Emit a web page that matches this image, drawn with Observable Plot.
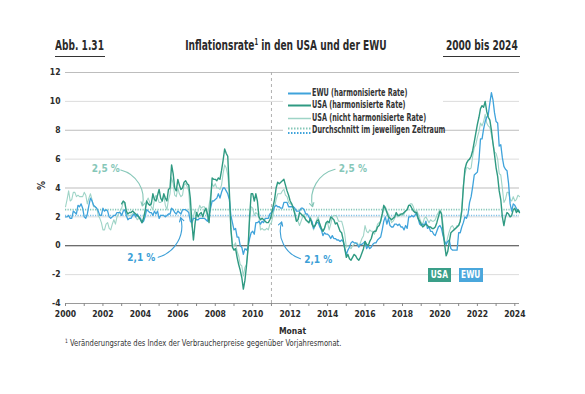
<!DOCTYPE html>
<html>
<head>
<meta charset="utf-8">
<script src="https://cdn.jsdelivr.net/npm/d3@7"></script>
<script src="https://cdn.jsdelivr.net/npm/@observablehq/plot@0.6"></script>
<style>
  body { margin: 0; background: #fff; }
  #wrap { position: relative; width: 585px; height: 394px; overflow: hidden;
          font-family: "Liberation Sans Narrow", "DejaVu Sans Condensed", "Roboto", sans-serif; color: #2b2b2b; }
  .abs { position: absolute; white-space: nowrap; }
  .sq { display: inline-block; transform: scaleX(0.72); }
  #chart svg { overflow: visible; }
</style>
</head>
<body>
<div id="wrap">
  <div class="abs" style="left:55px;top:37px;font-size:14px;font-weight:bold;"><span class="sq" style="transform-origin:left center;">Abb. 1.31</span></div>
  <div class="abs" style="left:55px;top:56px;width:50px;height:0;border-top:1px solid #333;"></div>
  <div class="abs" style="left:136px;top:37px;width:300px;text-align:center;font-size:14px;font-weight:bold;"><span class="sq" style="transform-origin:center center;">Inflationsrate<span style="font-size:8px;vertical-align:5px;">1</span> in den USA und der EWU</span></div>
  <div class="abs" style="left:400px;top:37px;width:118px;text-align:right;font-size:14px;font-weight:bold;"><span class="sq" style="transform-origin:right center;">2000 bis 2024</span></div>
  <div class="abs" style="left:443px;top:56px;width:77px;height:0;border-top:1px solid #333;"></div>
  <div id="chart" class="abs" style="left:0;top:62px;"></div>
  <div class="abs" style="left:37px;top:180px;font-size:10px;font-weight:bold;transform:rotate(-90deg);">%</div>
  <div id="legend" class="abs" style="left:283px;top:86px;width:160px;height:52px;background:#fff;"></div>
  <div class="abs" style="left:428px;top:268px;width:23px;height:14px;background:#3a9f89;color:#fff;font-size:10px;font-weight:bold;text-align:center;line-height:14px;"><span class="sq" style="transform:scaleX(0.82);">USA</span></div>
  <div class="abs" style="left:459px;top:268px;width:24px;height:14px;background:#4aa7dc;color:#fff;font-size:10px;font-weight:bold;text-align:center;line-height:14px;"><span class="sq" style="transform:scaleX(0.82);">EWU</span></div>
  <div class="abs" style="left:65px;top:337px;font-size:9px;color:#333;"><span class="sq" style="transform:scaleX(0.84);transform-origin:left center;"><span style="font-size:6px;vertical-align:3px;">1</span> Veränderungsrate des Index der Verbraucherpreise gegenüber Vorjahresmonat.</span></div>
</div>
<script>
// ---- data (monthly year-on-year rates, %) ----
const ewuStart = 2000;
const ewu = [
  2.0,2.0,2.1,1.9,1.9,2.4,2.3,2.2,2.8,2.7,2.9,2.6,
  2.0,1.9,2.2,2.8,3.3,3.1,2.8,2.7,2.6,2.4,2.1,2.1,
  2.6,2.4,2.5,2.4,2.0,1.9,2.0,2.1,2.1,2.3,2.3,2.3,
  2.1,2.4,2.5,2.1,1.8,1.9,1.9,2.1,2.2,2.0,2.2,2.0,
  1.9,1.6,1.7,2.0,2.5,2.4,2.3,2.3,2.1,2.4,2.2,2.4,
  1.9,2.1,2.1,2.1,2.0,2.1,2.2,2.2,2.6,2.5,2.3,2.2,
  2.4,2.3,2.2,2.5,2.5,2.5,2.4,2.3,1.7,1.6,1.9,1.9,
  1.8,1.8,1.9,1.9,1.9,1.9,1.8,1.7,2.1,2.6,3.1,3.1,
  3.2,3.3,3.6,3.3,3.7,4.0,4.0,3.8,3.6,3.2,2.1,1.6,
  1.1,1.2,0.6,0.6,0.0,-0.1,-0.6,-0.2,-0.3,-0.1,0.5,0.9,
  1.0,0.8,1.6,1.6,1.7,1.5,1.7,1.6,1.9,1.9,1.9,2.2,
  2.3,2.4,2.7,2.8,2.7,2.7,2.6,2.6,3.0,3.0,3.0,2.7,
  2.7,2.7,2.7,2.6,2.4,2.4,2.4,2.6,2.6,2.5,2.2,2.2,
  2.0,1.8,1.7,1.2,1.4,1.6,1.6,1.3,1.1,0.7,0.9,0.8,
  0.8,0.7,0.5,0.7,0.5,0.5,0.4,0.4,0.3,0.4,0.3,-0.2,
  -0.6,-0.3,-0.1,0.2,0.3,0.2,0.2,0.1,-0.1,0.1,0.1,0.2,
  0.3,-0.2,0.0,-0.2,-0.1,0.1,0.2,0.2,0.4,0.5,0.6,1.1,
  1.7,2.0,1.5,1.9,1.4,1.3,1.3,1.5,1.5,1.4,1.5,1.3,
  1.3,1.1,1.4,1.2,2.0,2.0,2.1,2.0,2.1,2.3,1.9,1.5,
  1.4,1.5,1.4,1.7,1.2,1.3,1.0,1.0,0.8,0.7,1.0,1.3,
  1.4,1.2,0.7,0.3,0.1,0.3,0.4,-0.2,-0.3,-0.3,-0.3,-0.3,
  0.9,0.9,1.3,1.6,2.0,1.9,2.2,3.0,3.4,4.1,4.9,5.0,
  5.1,5.9,7.4,7.4,8.1,8.6,8.9,9.1,9.9,10.6,10.1,9.2,
  8.6,8.5,6.9,7.0,6.1,5.5,5.3,5.2,4.3,2.9,2.4,2.9,
  2.8,2.6,2.4,2.4
];

const usaStart = 2000;
const usaCpi = [
  2.7,3.2,3.8,3.1,3.2,3.7,3.7,3.4,3.5,3.4,3.4,3.4,
  3.7,3.5,2.9,3.3,3.6,3.2,2.7,2.7,2.6,2.1,1.9,1.6,
  1.1,1.1,1.5,1.6,1.2,1.1,1.5,1.8,1.5,2.0,2.2,2.4,
  2.6,3.0,3.0,2.2,2.1,2.1,2.1,2.2,2.3,2.0,1.8,1.9,
  1.9,1.7,1.7,2.3,3.1,3.3,3.0,2.7,2.5,3.2,3.5,3.3,
  3.0,3.0,3.1,3.5,2.8,2.5,3.2,3.6,4.7,4.3,3.5,3.4,
  4.0,3.6,3.4,3.5,4.2,4.3,4.1,3.8,2.1,1.3,2.0,2.5,
  2.1,2.4,2.8,2.6,2.7,2.7,2.4,2.0,2.8,3.5,4.3,4.1,
  4.3,4.0,4.0,3.9,4.2,5.0,5.6,5.4,4.9,3.7,1.1,0.1,
  0.0,0.2,-0.4,-0.7,-1.3,-1.4,-2.1,-1.5,-1.3,-0.2,1.8,2.7,
  2.6,2.1,2.3,2.2,2.0,1.1,1.2,1.1,1.1,1.2,1.1,1.5,
  1.6,2.1,2.7,3.2,3.6,3.6,3.6,3.8,3.9,3.5,3.4,3.0,
  2.9,2.9,2.7,2.3,1.7,1.7,1.4,1.7,2.0,2.2,1.8,1.7,
  1.6,2.0,1.5,1.1,1.4,1.8,2.0,1.5,1.2,1.0,1.2,1.5,
  1.6,1.1,1.5,2.0,2.1,2.1,2.0,1.7,1.7,1.7,1.3,0.8,
  -0.1,0.0,-0.1,-0.2,0.0,0.1,0.2,0.2,0.0,0.2,0.5,0.7,
  1.4,1.0,0.9,1.1,1.0,1.0,0.8,1.1,1.5,1.6,1.7,2.1,
  2.5,2.7,2.4,2.2,1.9,1.6,1.7,1.9,2.2,2.0,2.2,2.1,
  2.1,2.2,2.4,2.5,2.8,2.9,2.9,2.7,2.3,2.5,2.2,1.9,
  1.6,1.5,1.9,2.0,1.8,1.6,1.8,1.7,1.7,1.8,2.1,2.3,
  2.5,2.3,1.5,0.3,0.1,0.6,1.0,1.3,1.4,1.2,1.2,1.4,
  1.4,1.7,2.6,4.2,5.0,5.4,5.4,5.3,5.4,6.2,6.8,7.0,
  7.5,7.9,8.5,8.3,8.6,9.1,8.5,8.3,8.2,7.7,7.1,6.5,
  6.4,6.0,5.0,4.9,4.0,3.0,3.2,3.7,3.7,3.2,3.1,3.4,
  3.1,3.2,3.5,3.4
];

const usaHarmStart = 2003;
const usaHarm = [
  2.9,3.1,3.0,2.4,2.2,2.3,2.3,2.4,2.3,2.2,2.1,2.0,
  1.8,1.6,1.9,2.4,3.1,2.9,2.8,2.9,3.6,3.2,3.1,3.5,
  3.9,3.3,3.1,3.6,3.3,3.1,3.9,4.0,5.6,5.0,4.0,3.8,
  4.6,4.2,3.9,4.0,4.4,4.5,4.3,4.2,3.3,1.6,0.4,1.5,
  2.3,2.0,2.2,2.3,2.0,2.4,2.6,2.2,1.6,3.1,4.7,4.6,
  4.6,4.5,4.7,4.6,5.2,5.9,6.7,6.4,6.2,3.8,1.2,-0.1,
  -0.3,-0.2,-0.8,-1.3,-1.7,-2.2,-3.0,-2.4,-1.4,-0.2,2.0,3.6,
  3.6,3.1,3.6,3.1,2.0,1.8,1.9,1.8,1.7,1.6,1.6,1.8,
  2.1,2.7,3.2,4.0,4.4,4.3,4.4,4.5,4.6,4.2,3.8,3.5,
  3.1,2.9,2.6,2.2,1.7,1.8,2.3,2.2,2.1,2.0,1.8,1.7,
  1.6,1.9,1.5,1.3,1.4,1.7,1.8,1.5,1.2,1.0,1.2,1.6,
  1.7,1.6,2.0,1.9,1.8,1.5,1.6,1.3,1.0,0.9,0.4,-0.2,
  -0.8,-0.6,-0.9,-1.0,-0.8,-0.6,-0.7,-0.9,-1.0,-0.8,-0.5,-0.2,
  0.3,0.1,0.0,0.3,0.5,0.9,1.0,1.0,1.3,1.4,1.7,2.2,
  2.8,2.6,2.3,2.0,1.9,1.8,1.9,2.0,2.3,2.1,2.1,2.2,
  2.2,2.3,2.4,2.5,2.8,2.8,2.6,2.4,2.3,2.3,1.9,1.7,
  1.5,1.3,1.4,1.5,1.4,1.3,1.3,1.2,1.2,1.3,1.6,2.0,
  2.4,2.2,1.0,0.1,-0.7,-0.4,0.3,0.9,1.0,1.1,1.2,1.3,
  1.4,1.7,2.4,4.0,5.3,5.7,5.9,6.0,6.2,6.6,7.2,7.8,
  8.4,8.9,9.5,9.7,9.6,10.0,9.3,8.9,8.7,8.0,7.1,6.3,
  5.4,4.8,3.8,3.2,2.0,1.4,2.0,2.3,2.2,2.0,2.1,2.5,
  2.6,2.3,2.5,2.3
];

// period averages
const avgFrom = [2000, 2011];
const avgTo = [2011, 2024.25];
const avgUsa = [2.5, 2.5];
const avgEwu = [2.1, 2.1];

const yTicks = [-4, -2, 0, 2, 4, 6, 8, 10, 12];
const xTicks = d3.range(2000, 2025);

// ---- colours ----
const C_EWU = "#3fa3db";
const C_USAH = "#2f9a82";
const C_USAN = "#9fd4c7";
const C_ANN25 = "#86c7b8";
const C_ANN21 = "#3c9fd7";

const toRows = (arr, start) => arr.map((v, i) => ({date: start + i / 12, value: v}));
const avgRows = (vals) => vals.map((v, i) => ({from: avgFrom[i], to: avgTo[i], value: v}));

const FONT = '"Liberation Sans Narrow", "DejaVu Sans Condensed", Roboto, sans-serif';

const chart = Plot.plot({
  width: 585,
  height: 275,
  marginTop: 10,
  marginBottom: 34,
  marginLeft: 65,
  marginRight: 66,
  style: {fontFamily: FONT, fontSize: "9px", color: "#2b2b2b", background: "transparent"},
  x: {domain: [2000, 2024.25]},
  y: {domain: [-4, 12]},
  marks: [
    Plot.gridY(yTicks.filter(d => d % 4 !== 0), {stroke: "#dcdcdc", strokeOpacity: 1}),
    Plot.gridY(yTicks.filter(d => d % 4 === 0 && d > 0), {stroke: "#bdbdbd", strokeOpacity: 1}),
    Plot.ruleY([-4], {stroke: "#9a9a9a"}),
    Plot.ruleY([0], {stroke: "#3c3c3c", strokeWidth: 1}),
    Plot.ruleX([2011], {stroke: "#b0b0b0", strokeDasharray: "3,3"}),
    Plot.ruleY(avgRows(avgUsa), {y: "value", x1: "from", x2: "to", stroke: C_ANN25, strokeWidth: 1.6, strokeDasharray: "1.2,1.3"}),
    Plot.ruleY(avgRows(avgEwu), {y: "value", x1: "from", x2: "to", stroke: "#7fc0e6", strokeWidth: 1.6, strokeDasharray: "1.2,1.3"}),
    Plot.line(toRows(usaCpi, usaStart), {x: "date", y: "value", stroke: C_USAN, strokeWidth: 1.1}),
    Plot.line(toRows(ewu, ewuStart), {x: "date", y: "value", stroke: C_EWU, strokeWidth: 1.3}),
    Plot.line(toRows(usaHarm, usaHarmStart), {x: "date", y: "value", stroke: C_USAH, strokeWidth: 1.4}),
    // annotations
    Plot.text(["2,5 %"], {x: 2002.15, y: 5.3, fill: C_ANN25, fontSize: 10, fontWeight: "bold"}),
    Plot.text(["2,1 %"], {x: 2004.05, y: -0.85, fill: C_ANN21, fontSize: 10, fontWeight: "bold"}),
    Plot.text(["2,5 %"], {x: 2015.35, y: 5.3, fill: C_ANN25, fontSize: 10, fontWeight: "bold"}),
    Plot.text(["2,1 %"], {x: 2013.5, y: -0.95, fill: C_ANN21, fontSize: 10, fontWeight: "bold"}),
    Plot.arrow([0], {x1: 2002.95, y1: 5.25, x2: 2004.1, y2: 2.75, bend: 45, stroke: C_ANN25, strokeWidth: 1.1, headLength: 6}),
    Plot.arrow([0], {x1: 2004.95, y1: -0.8, x2: 2006.15, y2: 1.95, bend: -45, stroke: C_ANN21, strokeWidth: 1.1, headLength: 6}),
    Plot.arrow([0], {x1: 2014.4, y1: 5.3, x2: 2013.2, y2: 2.7, bend: -45, stroke: C_ANN25, strokeWidth: 1.1, headLength: 6}),
    Plot.arrow([0], {x1: 2012.55, y1: -0.9, x2: 2011.55, y2: 1.65, bend: 45, stroke: C_ANN21, strokeWidth: 1.1, headLength: 6}),
    // axes
    Plot.axisY({ticks: yTicks, tickSize: 0, tickPadding: 5, tickFormat: d => String(d), label: null, fontWeight: "bold", fontSize: 8.5}),
    Plot.axisX({ticks: xTicks, tickFormat: d => d % 2 === 0 ? String(d) : "", tickSize: 3, tickPadding: 4,
      label: "Monat", labelAnchor: "center", labelArrow: "none", labelOffset: 30, fontWeight: "bold", fontSize: 8.5, stroke: "#888"})
  ]
});
document.getElementById("chart").appendChild(chart);

// legend
const legendItems = [
  {label: "EWU (harmonisierte Rate)", color: C_EWU, w: 2, dotted: false},
  {label: "USA (harmonisierte Rate)", color: C_USAH, w: 2, dotted: false},
  {label: "USA (nicht harmonisierte Rate)", color: C_USAN, w: 1.5, dotted: false},
  {label: "Durchschnitt im jeweiligen Zeitraum", color: null, w: 2, dotted: true}
];
const leg = document.getElementById("legend");
legendItems.forEach((it, i) => {
  const top = [2, 14, 26.5, 39][i];
  const sw = document.createElementNS("http://www.w3.org/2000/svg", "svg");
  sw.setAttribute("width", 23); sw.setAttribute("height", 12);
  sw.style.position = "absolute"; sw.style.left = "5px"; sw.style.top = top + "px";
  if (!it.dotted) {
    sw.innerHTML = `<line x1="0" x2="23" y1="5.5" y2="5.5" stroke="${it.color}" stroke-width="${it.w}"/>`;
  } else {
    sw.innerHTML = `<line x1="0" x2="23" y1="3.5" y2="3.5" stroke="${C_ANN25}" stroke-width="2" stroke-dasharray="1.5,1.5"/>` +
                   `<line x1="0" x2="23" y1="8" y2="8" stroke="${C_EWU}" stroke-width="2" stroke-dasharray="1.5,1.5"/>`;
  }
  leg.appendChild(sw);
  const t = document.createElement("div");
  t.className = "abs";
  t.style.left = "29px"; t.style.top = (top - 1) + "px";
  t.style.fontSize = "10px"; t.style.fontWeight = "bold"; t.style.color = "#333";
  t.innerHTML = `<span class="sq" style="transform-origin:left center;">${it.label}</span>`;
  leg.appendChild(t);
});
</script>
</body>
</html>
